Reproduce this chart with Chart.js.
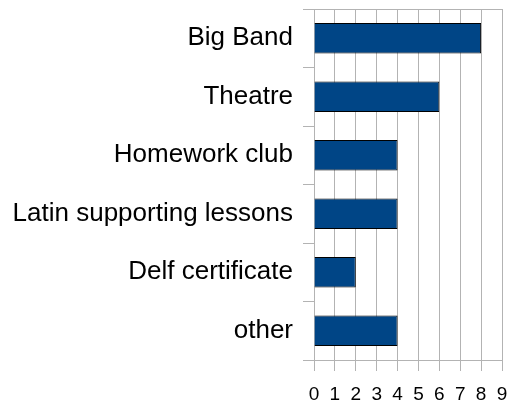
<!DOCTYPE html>
<html>
<head>
<meta charset="utf-8">
<script src="https://cdn.jsdelivr.net/npm/chart.js@4/dist/chart.umd.min.js"></script>
<style>
  html, body { margin: 0; padding: 0; background: #fff; }
  #wrap { width: 513px; height: 408px; }
</style>
</head>
<body>
<div id="wrap"><canvas id="chart" width="513" height="408"></canvas></div>
<script>
"use strict";

const activities = ['Big Band', 'Theatre', 'Homework club', 'Latin supporting lessons', 'Delf certificate', 'other'];
const counts = [8, 6, 4, 4, 2, 4];
const xTicks = [0, 1, 2, 3, 4, 5, 6, 7, 8, 9];

const gridGray = '#b3b3b3';

new Chart(document.getElementById('chart'), {
  type: 'bar',
  data: {
    labels: activities,
    datasets: [{
      data: counts,
      backgroundColor: '#004586',
      borderColor: '#000000',
      borderWidth: 1,
      barPercentage: 0.52,
      categoryPercentage: 1
    }]
  },
  options: {
    indexAxis: 'y',
    responsive: false,
    animation: false,
    layout: { padding: { top: 9, right: 11, left: 0, bottom: 0 } },
    plugins: { legend: { display: false }, tooltip: { enabled: false } },
    scales: {
      x: {
        min: 0,
        max: 9,
        afterBuildTicks: (axis) => { axis.ticks = xTicks.map(v => ({ value: v })); },
        grid: { color: gridGray, tickLength: 11, tickColor: gridGray },
        border: { color: gridGray },
        ticks: { color: '#000', font: { family: 'Liberation Sans', size: 19 }, padding: 12, maxRotation: 0 },
        afterFit: (axis) => {
          axis.height = 48;
          axis.paddingLeft = 0;
          axis.paddingRight = 0;
        }
      },
      y: {
        grid: {
          offset: true,
          color: (ctx) => (ctx.index === 0 || ctx.index === undefined) ? gridGray : 'transparent',
          tickColor: gridGray,
          tickLength: 11
        },
        border: { color: gridGray },
        ticks: { color: '#000', font: { family: 'Liberation Sans', size: 26 }, padding: 10 },
        afterFit: (axis) => {
          axis.width = 314;
          // labels sit mid-category, no need for the extra half line above/below
          axis.paddingTop = 0;
          axis.paddingBottom = 0;
        }
      }
    }
  }
});
</script>
</body>
</html>
